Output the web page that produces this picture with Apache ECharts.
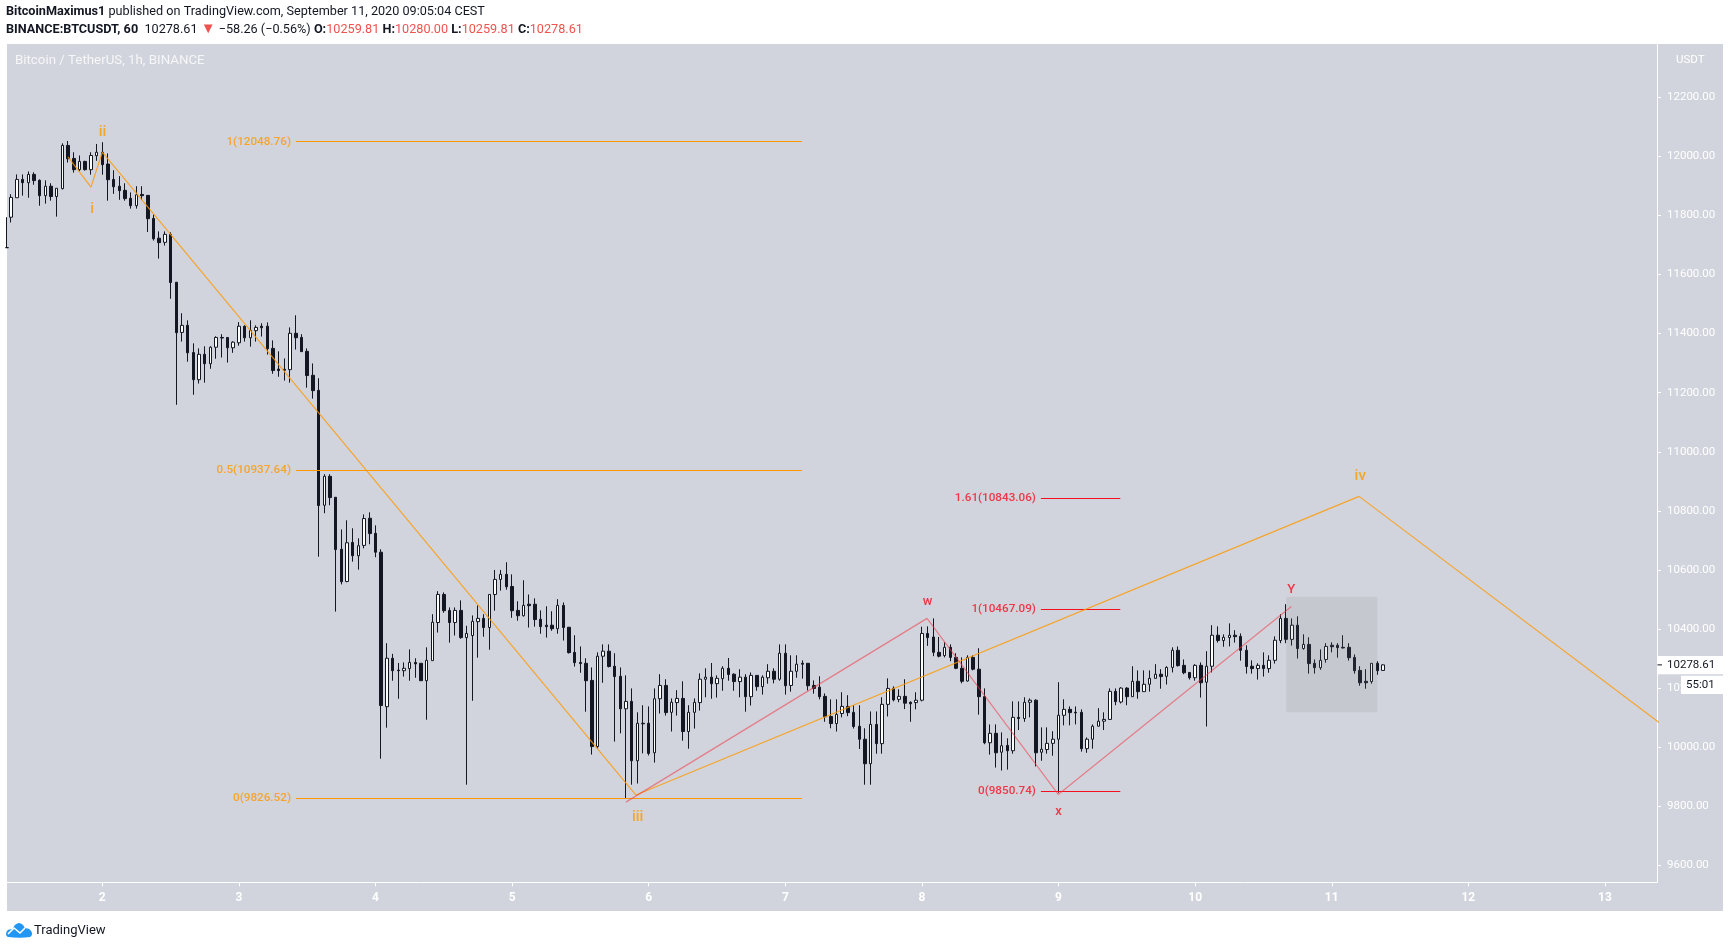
<!DOCTYPE html>
<html><head><meta charset="utf-8">
<style>html,body{margin:0;padding:0;background:#fff}#c{width:1730px;height:948px}</style>
<script src="https://cdn.jsdelivr.net/npm/echarts@6/dist/echarts.min.js"></script>
</head><body><div id="c"></div>
<script>
// Hourly candles, [open, high, low, close]; hours are counted from 2 Sep 00:00.
const firstHour = -16;
// The candle cut off by the left edge: only its right side shows, at this hour.
const edgeCandle = [-16.7,11691,11794,11691,11691];
const sep1 = [[11794,11872,11776,11861],[11860,11939,11860,11922],[11922,11939,11867,11911],[11911,11949,11860,11939],[11939,11946,11904,11918],[11919,11922,11833,11867],[11867,11919,11840,11899],[11899,11909,11850,11864],[11864,11892,11796,11892],[11891,12044,11888,12037],[12037,12052,11979,11992],[11993,12014,11945,11955],[11955,12003,11950,11983],[11983,11985,11952,11955],[11955,12014,11938,12003],[12002,12042,11985,12014]];
const sep2 = [[12014,12048,11938,11972],[11974,12010,11850,11921],[11922,11953,11873,11897],[11899,11933,11853,11884],[11885,11909,11850,11857],[11858,11878,11823,11833],[11833,11899,11823,11870],[11871,11899,11852,11867],[11868,11868,11744,11789],[11790,11803,11715,11721],[11723,11746,11654,11708],[11709,11746,11698,11736],[11736,11743,11518,11573],[11574,11574,11159,11403],[11404,11469,11373,11428],[11428,11445,11305,11335],[11336,11367,11193,11244],[11244,11350,11231,11330],[11330,11357,11234,11298],[11298,11357,11281,11354],[11354,11391,11315,11387],[11387,11398,11319,11385],[11387,11387,11302,11352],[11352,11374,11335,11371]];
const sep3 = [[11369,11439,11359,11425],[11425,11428,11373,11386],[11386,11445,11356,11411],[11410,11428,11373,11421],[11425,11435,11390,11420],[11425,11438,11329,11349],[11350,11377,11264,11275],[11280,11340,11254,11275],[11279,11316,11241,11276],[11278,11421,11234,11401],[11401,11462,11346,11386],[11387,11398,11339,11339],[11340,11350,11217,11258],[11259,11299,11180,11207],[11208,11249,10645,10818],[10819,10924,10792,10917],[10917,10924,10819,10845],[10846,10846,10459,10669],[10670,10737,10551,10560],[10561,10768,10558,10692],[10693,10741,10628,10648],[10648,10707,10601,10682],[10683,10788,10673,10774],[10775,10795,10687,10723]];
const sep4 = [[10724,10751,10643,10660],[10660,10670,9961,10141],[10137,10352,10066,10301],[10301,10316,10225,10259],[10261,10285,10164,10259],[10259,10287,10239,10267],[10266,10331,10225,10287],[10287,10301,10235,10282],[10284,10284,10225,10225],[10225,10338,10093,10294],[10293,10450,10293,10423],[10422,10528,10388,10517],[10517,10524,10455,10462],[10463,10473,10354,10422],[10422,10473,10378,10463],[10463,10497,10367,10371],[10371,10411,9873,10385],[10378,10446,10157,10426],[10425,10480,10303,10436],[10436,10450,10374,10405],[10405,10517,10330,10517],[10517,10600,10462,10568],[10568,10600,10530,10585],[10585,10626,10533,10543]];
const sep5 = [[10544,10585,10438,10462],[10463,10494,10428,10445],[10445,10565,10442,10480],[10484,10517,10405,10479],[10484,10504,10408,10432],[10433,10463,10384,10408],[10413,10477,10371,10408],[10413,10460,10394,10401],[10401,10501,10384,10480],[10480,10490,10361,10405],[10406,10406,10317,10320],[10321,10379,10273,10286],[10287,10341,10252,10283],[10284,10301,10120,10225],[10226,10270,9975,10002],[10002,10321,9995,10308],[10308,10348,10218,10325],[10325,10348,10270,10273],[10274,10318,10019,10239],[10240,10270,10047,10130],[10130,10243,9827,10155],[10155,10199,9873,9954],[9954,10118,9877,10081],[10081,10142,9979,10079]];
const sep6 = [[10081,10138,9972,9979],[9981,10199,9948,10164],[10164,10247,10114,10209],[10209,10230,10107,10117],[10118,10165,10053,10152],[10151,10193,10107,10165],[10165,10223,10022,10053],[10053,10142,9995,10118],[10118,10165,10063,10152],[10151,10250,10124,10230],[10230,10267,10169,10237],[10237,10285,10164,10215],[10215,10243,10168,10233],[10232,10274,10191,10267],[10267,10302,10225,10246],[10247,10250,10191,10222],[10222,10264,10169,10237],[10237,10247,10120,10171],[10171,10253,10141,10243],[10243,10243,10191,10205],[10205,10243,10178,10237],[10235,10281,10215,10257],[10257,10267,10216,10230],[10230,10348,10225,10318]];
const sep7 = [[10318,10348,10178,10208],[10209,10311,10188,10257],[10257,10311,10235,10281],[10284,10294,10232,10281],[10284,10284,10192,10208],[10209,10226,10181,10199],[10203,10240,10162,10171],[10172,10182,10086,10103],[10104,10162,10064,10080],[10080,10162,10053,10111],[10114,10186,10101,10138],[10138,10176,10105,10117],[10118,10142,10063,10070],[10071,10142,9994,10027],[10027,10064,9873,9944],[9944,10121,9873,10077],[10077,10121,9978,10012],[10012,10169,9978,10145],[10145,10233,10104,10199],[10199,10206,10155,10160],[10162,10196,10152,10172],[10172,10230,10129,10149],[10152,10155,10086,10147],[10151,10186,10128,10159]];
const sep8 = [[10159,10408,10155,10385],[10385,10409,10343,10371],[10373,10436,10308,10321],[10321,10373,10304,10308],[10310,10355,10304,10338],[10338,10348,10291,10304],[10304,10318,10264,10267],[10267,10304,10216,10223],[10224,10311,10222,10304],[10304,10311,10260,10264],[10264,10335,10110,10171],[10171,10199,10010,10015],[10015,10077,9975,10047],[10047,10077,9931,9981],[9983,10050,9921,10005],[10006,10030,9924,9988],[9988,10155,9978,10101],[10101,10155,10058,10097],[10097,10169,10086,10152],[10152,10165,10101,10159],[10159,10162,9935,9981],[9983,10067,9954,9993],[9992,10067,9978,10013],[10013,10054,9971,10027]];
const sep9 = [[10027,10220,9846,10108],[10108,10162,10074,10128],[10128,10138,10074,10117],[10118,10138,10077,10116],[10118,10128,9985,9995],[9995,10033,9981,10027],[10027,10077,9995,10071],[10071,10132,10071,10088],[10088,10118,10058,10094],[10094,10199,10092,10189],[10189,10199,10142,10154],[10153,10203,10148,10200],[10200,10203,10142,10171],[10171,10274,10171,10223],[10223,10260,10164,10188],[10188,10260,10187,10213],[10213,10260,10188,10233],[10233,10281,10233,10247],[10247,10264,10198,10239],[10240,10274,10212,10270],[10270,10338,10253,10328],[10328,10341,10273,10276],[10277,10297,10247,10252],[10253,10253,10229,10235]];
const sep10 = [[10235,10281,10225,10277],[10277,10287,10168,10218],[10220,10325,10070,10274],[10274,10413,10253,10379],[10379,10409,10354,10361],[10361,10382,10340,10372],[10371,10419,10341,10379],[10379,10396,10354,10374],[10375,10385,10293,10328],[10328,10345,10249,10273],[10274,10294,10249,10266],[10266,10284,10229,10277],[10277,10321,10239,10266],[10266,10311,10252,10294],[10294,10375,10283,10362],[10361,10450,10352,10436],[10436,10484,10352,10365],[10365,10436,10344,10413],[10413,10443,10300,10334],[10334,10382,10330,10348],[10348,10372,10249,10283],[10284,10297,10249,10269],[10269,10331,10262,10294],[10297,10352,10286,10341]];
const sep11 = [[10345,10355,10321,10340],[10345,10352,10303,10337],[10338,10379,10334,10336],[10338,10352,10293,10303],[10304,10314,10249,10259],[10260,10274,10208,10218],[10223,10264,10198,10218],[10222,10284,10215,10284],[10284,10291,10245,10259],[10259.81,10280,10259.81,10278.61]];

// Axis ticks
const dayLabels = ['2','3','4','5','6','7','8','9','10','11','12','13'];
const priceTicks = [9600,9800,10000,10200,10400,10600,10800,11000,11200,11400,11600,11800,12000,12200];

// Drawn waves, [hour, price]
const orangeWave = [[-6.03,11998],[-1.99,11896],[0,12014],[93.76,9838],[220.8,10849],[290,9844]];
const redWave = [[92,9814],[144.9,10436],[167.95,9840],[208.9,10476]];

// Wave labels: text, hour, price
const orangeLabels = [['i',-1.8,11822],['ii',0.05,12083],['iii',94.06,9762],['iv',221,10916]];
const redLabels = [['w',145,10492],['x',168,9782],['Y',208.9,10533]];

// Fibonacci levels
const orangeFib = [['1',12048.76],['0.5',10937.64],['0',9826.52]];
const redFib = [['1.61',10843.06],['1',10467.09],['0',9850.74]];
const orangeFibHours = [34.03,122.9];
const redFibHours = [164.9,178.85];

// Highlighted box
const boxHours = [208,224];
const boxPrices = [10118,10509];

const lastPrice = 10278.61;
const countdown = '55:01';

const DARK='#131722', BG='#d1d4dc', ORANGE='#ff9800', RED='#f50f1e', FONT='Roboto';
const allDays=[sep1,sep2,sep3,sep4,sep5,sep6,sep7,sep8,sep9,sep10,sep11];
const candles=allDays.flat().map((r,i)=>[firstHour+i,r[0],r[3],r[2],r[1]]);
candles.unshift([edgeCandle[0],edgeCandle[1],edgeCandle[4],edgeCandle[3],edgeCandle[2]]);
const dayHours=dayLabels.map((d,i)=>i*24);

function labelSeries(rows,color,size){
  return {type:'scatter',silent:true,symbolSize:0,z:6,
    data:rows.map(r=>({name:r[0],value:[r[1],r[2]]})),
    label:{show:true,position:'inside',formatter:p=>p.name,color:color,fontFamily:FONT,fontSize:size,fontWeight:500}};
}
function fibSeries(rows,hours,color){
  return [{type:'custom',silent:true,z:4,encode:{x:[0,1],y:2},
    data:rows.map(r=>[hours[0],hours[1],r[1]]),
    renderItem:(params,api)=>{
      const a=api.coord([api.value(0),api.value(2)]), b=api.coord([api.value(1),api.value(2)]);
      const y=Math.floor(a[1])+0.5;
      return {type:'line',shape:{x1:a[0],y1:y,x2:b[0],y2:y},style:{stroke:color,lineWidth:1}};
    }},
   {type:'scatter',silent:true,symbolSize:0,z:6,
    data:rows.map(r=>({name:r[0]+'('+r[1].toFixed(2)+')',value:[hours[0],r[1]]})),
    label:{show:true,position:'left',distance:5,formatter:p=>p.name,color:color,fontFamily:FONT,fontSize:11.7,fontWeight:500}}];
}
const chart=echarts.init(document.getElementById('c'),null,{renderer:'canvas'});
const hdr={fontFamily:FONT,fontSize:12.67,color:DARK};
const num=Object.assign({},hdr,{color:'#ef5350'});
const bold=Object.assign({},hdr,{fontWeight:'bold'});
const tri=Object.assign({},num,{fontSize:15});
const base={fontFamily:FONT,fontSize:12.67,fontWeight:'normal',color:DARK};
chart.setOption({
  animation:false,
  backgroundColor:'#fff',
  title:[
    {left:6,top:5,padding:0,text:'{b|BitcoinMaximus1} {n|published on TradingView.com, September 11, 2020 09:05:04 CEST}',
     textStyle:Object.assign({},base,{rich:{b:bold,n:hdr}})},
    {left:6,top:22,padding:0,text:'{b|BINANCE:BTCUSDT, 60}  {n|10278.61} {t|▼} {n|−58.26 (−0.56%)} {b|O:}{r|10259.81} {b|H:}{r|10280.00} {b|L:}{r|10259.81} {b|C:}{r|10278.61}',
     textStyle:Object.assign({},base,{rich:{b:bold,n:hdr,r:num,t:tri}})},
    {left:15,top:54,padding:0,text:'Bitcoin / TetherUS, 1h, BINANCE',textStyle:{fontFamily:FONT,fontSize:13.3,fontWeight:'normal',color:'rgba(255,255,255,0.8)'}},
    {left:1676,top:54,padding:0,text:'USDT',textStyle:{fontFamily:FONT,fontSize:11.5,fontWeight:'normal',color:'#fff'}},
    {left:34,top:924,padding:0,text:'TradingView',textStyle:{fontFamily:FONT,fontSize:13,fontWeight:'normal',color:DARK}}
  ],
  grid:{left:7,right:73,top:44,bottom:65.7,show:false},
  xAxis:{type:'value',min:-16.74,max:273.14,splitLine:{show:false},
    axisLine:{show:true,onZero:false,lineStyle:{color:'#fff',width:1}},
    axisTick:{show:true,length:4,lineStyle:{color:'#fff'},customValues:dayHours},
    axisLabel:{customValues:dayHours,margin:10,color:'#fff',fontFamily:FONT,fontSize:12,fontWeight:'bold',
      formatter:v=>dayLabels[Math.round(v/24)]}},
  yAxis:{type:'value',position:'right',min:9542.6,max:12380.4,splitLine:{show:false},
    axisLine:{show:true,onZero:false,lineStyle:{color:'#fff',width:1}},
    axisTick:{show:true,length:4,lineStyle:{color:'#fff'},customValues:priceTicks},
    axisLabel:{customValues:priceTicks,margin:10,padding:[3,0,0,0],color:'#fff',fontFamily:FONT,fontSize:11.5,
      formatter:v=>v.toFixed(2)}},
  series:[
    {type:'candlestick',barWidth:3,silent:true,z:2,encode:{x:0,y:[1,2,3,4]},data:candles,
     itemStyle:{color:'#fff',color0:DARK,borderColor:DARK,borderColor0:DARK,borderWidth:1},
     markArea:{silent:true,z:3,itemStyle:{color:'rgba(120,123,134,0.13)'},
       data:[[{coord:[boxHours[0],boxPrices[1]]},{coord:[boxHours[1],boxPrices[0]]}]]}},
    {type:'line',silent:true,symbol:'none',z:5,data:orangeWave,lineStyle:{color:'rgba(255,152,0,0.8)',width:1.2}},
    {type:'line',silent:true,symbol:'none',z:5,data:redWave,lineStyle:{color:'rgba(242,54,69,0.55)',width:1.2}},
    ...fibSeries(orangeFib,orangeFibHours,ORANGE),
    ...fibSeries(redFib,redFibHours,RED),
    labelSeries(orangeLabels,ORANGE,15),
    labelSeries(redLabels,RED,13)
  ]
});
const py=chart.convertToPixel({yAxisIndex:0},lastPrice);
chart.setOption({graphic:{elements:[
  {type:'rect',z:-100,silent:true,shape:{x:7,y:44,width:1716,height:867},style:{fill:BG}},
  {type:'rect',z:100,silent:true,shape:{x:1657.5,y:py-9,width:65.5,height:18.3},style:{fill:'#fff'}},
  {type:'line',z:101,silent:true,shape:{x1:1657.5,y1:py,x2:1662,y2:py},style:{stroke:DARK,lineWidth:1}},
  {type:'text',z:101,silent:true,x:1667,y:py,style:{text:lastPrice.toFixed(2),fill:DARK,font:'11.5px Roboto',textVerticalAlign:'middle'}},
  {type:'rect',z:100,silent:true,shape:{x:1681,y:py+10.8,width:42,height:18.3},style:{fill:'#fff'}},
  {type:'text',z:101,silent:true,x:1686,y:py+20,style:{text:countdown,fill:DARK,font:'11.5px Roboto',textVerticalAlign:'middle'}},
  {type:'polygon',z:100,silent:true,shape:{smooth:0.35,points:[[6,934],[8,930],[12,929],[15,925],[19,923],[23,925],[25,928],[29,929],[32,933],[30,937],[8,937]]},style:{fill:'#2196f3'}},
  {type:'polyline',z:101,silent:true,shape:{points:[[8,934],[14,928],[20,933],[25,928]]},style:{stroke:'#fff',lineWidth:1.6,fill:'none'}}
]}});
</script></body></html>
